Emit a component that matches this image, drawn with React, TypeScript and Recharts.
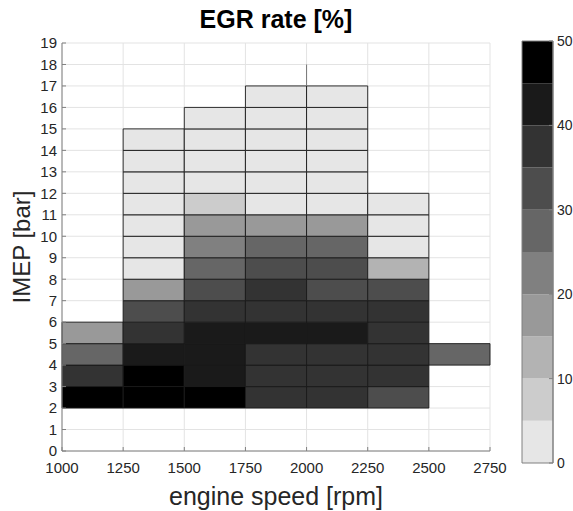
import { ComposedChart, XAxis, YAxis, CartesianGrid, ReferenceArea, ReferenceLine, Scatter } from 'recharts'

// engine speed bins (left edge, rpm) and the IMEP where each column starts
const rpmBins = [1000, 1250, 1500, 1750, 2000, 2250, 2500]
const imepStart = [2, 2, 2, 2, 2, 2, 4]

// EGR rate [%] per column, one entry per 1 bar IMEP step, from imepStart upwards
const egr1000 = [48, 37, 27, 17]
const egr1250 = [48, 48, 42, 37, 32, 17, 2, 2, 2, 2, 2, 2, 2]
const egr1500 = [48, 42, 42, 42, 37, 32, 27, 22, 17, 7, 2, 2, 2, 2]
const egr1750 = [37, 37, 37, 42, 37, 37, 32, 27, 17, 2, 2, 2, 2, 2, 2]
const egr2000 = [37, 37, 37, 42, 37, 32, 32, 27, 17, 2, 2, 2, 2, 2, 2]
const egr2250 = [32, 37, 37, 37, 37, 32, 12, 2, 2, 2]
const egr2500 = [27]
const egrColumns = [egr1000, egr1250, egr1500, egr1750, egr2000, egr2250, egr2500]

const rpmTicks = [1000, 1250, 1500, 1750, 2000, 2250, 2500, 2750]
const imepTicks = [0, 1, 2, 3, 4, 5, 6, 7, 8, 9, 10, 11, 12, 13, 14, 15, 16, 17, 18, 19]
const egrTicks = [0, 10, 20, 30, 40, 50]
const levelEdges = [0, 5, 10, 15, 20, 25, 30, 35, 40, 45, 50]
const levelColors = ['#e6e6e6', '#cccccc', '#b3b3b3', '#999999', '#808080', '#666666', '#4d4d4d', '#333333', '#1a1a1a', '#000000']

const rpmStep = 250
const font = '"Liberation Sans", Arial, sans-serif'
const textColor = '#262626'

const colorFor = (v: number) => {
  let idx = Math.floor(v / 5)
  if (idx > 9) idx = 9
  if (idx < 0) idx = 0
  return levelColors[idx]
}

const cells = egrColumns.flatMap((col, i) =>
  col.map((v, j) => ({
    x1: rpmBins[i],
    x2: rpmBins[i] + rpmStep,
    y1: imepStart[i] + j,
    y2: imepStart[i] + j + 1,
    x: rpmBins[i] + rpmStep / 2,
    y: imepStart[i] + j + 0.5,
    value: v,
  }))
)

const barPoints = levelEdges.map((e) => ({ x: 0.5, y: e }))

const tickStyle = { fill: textColor, fontSize: 15, fontFamily: font }
const noShape = () => <g />

export default function App() {
  return (
    <div style={{ position: 'absolute', left: 0, top: 0, width: 573, height: 511, fontFamily: font, background: '#fff' }}>
      <div
        style={{
          position: 'absolute',
          left: 0,
          top: 7,
          width: 552,
          textAlign: 'center',
          fontSize: 25,
          lineHeight: '25px',
          fontWeight: 'bold',
          color: '#000',
        }}
      >
        EGR rate [%]
      </div>
      <div style={{ position: 'absolute', left: 0, top: 0 }}>
        <ComposedChart width={573} height={511} margin={{ top: 43, right: 83, bottom: 0, left: 0 }}>
          <CartesianGrid stroke="#e3e3e3" />
          <XAxis
            type="number"
            dataKey="x"
            domain={[1000, 2750]}
            allowDataOverflow
            ticks={rpmTicks}
            interval={0}
            height={60}
            tickSize={-4}
            tickMargin={15}
            stroke="#808080"
            tick={tickStyle}
            label={{ value: 'engine speed [rpm]', position: 'insideBottom', offset: 6, fontSize: 25, fill: textColor }}
          />
          <YAxis
            type="number"
            dataKey="y"
            domain={[0, 19]}
            allowDataOverflow
            ticks={imepTicks}
            interval={0}
            width={62}
            tickSize={-4}
            tickMargin={9}
            stroke="#808080"
            tick={tickStyle}
            label={{
              value: 'IMEP [bar]',
              angle: -90,
              position: 'insideLeft',
              offset: 21,
              fontSize: 24,
              fill: textColor,
              style: { textAnchor: 'middle' },
            }}
          />
          <Scatter data={cells} dataKey="y" shape={noShape} isAnimationActive={false} />
          {cells.map((c, k) => (
            <ReferenceArea
              key={k}
              x1={c.x1}
              x2={c.x2}
              y1={c.y1}
              y2={c.y2}
              fill={colorFor(c.value)}
              fillOpacity={1}
              stroke="#1a1a1a"
              strokeWidth={1}
              strokeOpacity={0.9}
            />
          ))}
          <ReferenceLine
            segment={[
              { x: 2000, y: 17 },
              { x: 2000, y: 18 },
            ]}
            stroke="#777"
            strokeWidth={1}
          />
        </ComposedChart>
      </div>
      <div style={{ position: 'absolute', left: 500, top: 0 }}>
        <ComposedChart width={73} height={511} margin={{ top: 41, right: 0, bottom: 48, left: 22 }}>
          <XAxis type="number" dataKey="x" domain={[0, 1]} hide />
          <YAxis
            type="number"
            dataKey="y"
            orientation="right"
            domain={[0, 50]}
            allowDataOverflow
            ticks={egrTicks}
            interval={0}
            width={20}
            tickSize={-4}
            tickMargin={8}
            stroke="#808080"
            tick={{ ...tickStyle, fontSize: 14, textAnchor: 'start' }}
          />
          <Scatter data={barPoints} dataKey="y" shape={noShape} isAnimationActive={false} />
          {levelColors.map((col, i) => (
            <ReferenceArea
              key={i}
              x1={0}
              x2={1}
              y1={levelEdges[i]}
              y2={levelEdges[i + 1]}
              fill={col}
              fillOpacity={1}
              stroke="none"
            />
          ))}
          <ReferenceArea x1={0} x2={1} y1={0} y2={50} fill="none" stroke="#808080" strokeWidth={1} />
        </ComposedChart>
      </div>
    </div>
  )
}
